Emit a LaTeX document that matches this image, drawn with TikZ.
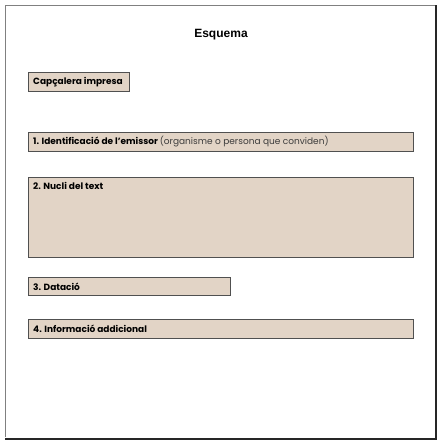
\documentclass[tikz,border=0pt]{standalone}
\usepackage{fontspec}
\setmainfont{Poppins}
\newfontfamily\titlefont{Liberation Sans}
\usetikzlibrary{positioning}

\definecolor{panelfill}{RGB}{226,212,198}
\definecolor{panelline}{RGB}{80,80,80}
\definecolor{noteink}{RGB}{60,60,60}

\tikzset{
  panel/.style = {draw=panelline, fill=panelfill, line width=1pt, anchor=north west,
                  inner sep=0pt, minimum height=19pt},
  tag/.style   = {anchor=west, inner sep=0pt, font=\fontsize{9}{10}\selectfont\bfseries},
}

\begin{document}
\begin{tikzpicture}[x=1pt, y=-1pt]%
    \useasboundingbox (0,0) rectangle (442,445);
    % page
    \draw[gray, line width=1pt] (5,437) -- (5,5) -- (436,5);
    \draw[black!85, line width=2pt] (436,5) -- (436,439) -- (5,439);
    \node (title) at (221,35) {\titlefont\bfseries\fontsize{12}{14}\selectfont Esquema};
    % boxes
    \node (cap) [panel, minimum width=101pt] at (28,72) {};
    \node (p1) [panel, minimum width=385pt] at (28,132) {};
    \node (p2) [panel, minimum width=385pt, minimum height=80pt] at (28,177) {};
    \node (p3) [panel, minimum width=202pt, minimum height=18pt] at (28,277) {};
    \node (p4) [panel, minimum width=385pt] at (28,319) {};
    % labels
    \node (capt) [tag] at ([xshift=5pt]cap.west) {Capçalera impresa};
    \node (p1t) [tag] at ([xshift=5pt]p1.west) {1. Identificació de l’emissor
        {\mdseries\color{noteink}(organisme o persona que conviden)}};
    \node (p2t) [tag] at ([xshift=5pt, yshift=-9pt]p2.north west) {2. Nucli del text};
    \node (p3t) [tag] at ([xshift=5pt]p3.west) {3. Datació};
    \node (p4t) [tag] at ([xshift=5pt]p4.west) {4. Informació addicional};
\end{tikzpicture}
\end{document}
